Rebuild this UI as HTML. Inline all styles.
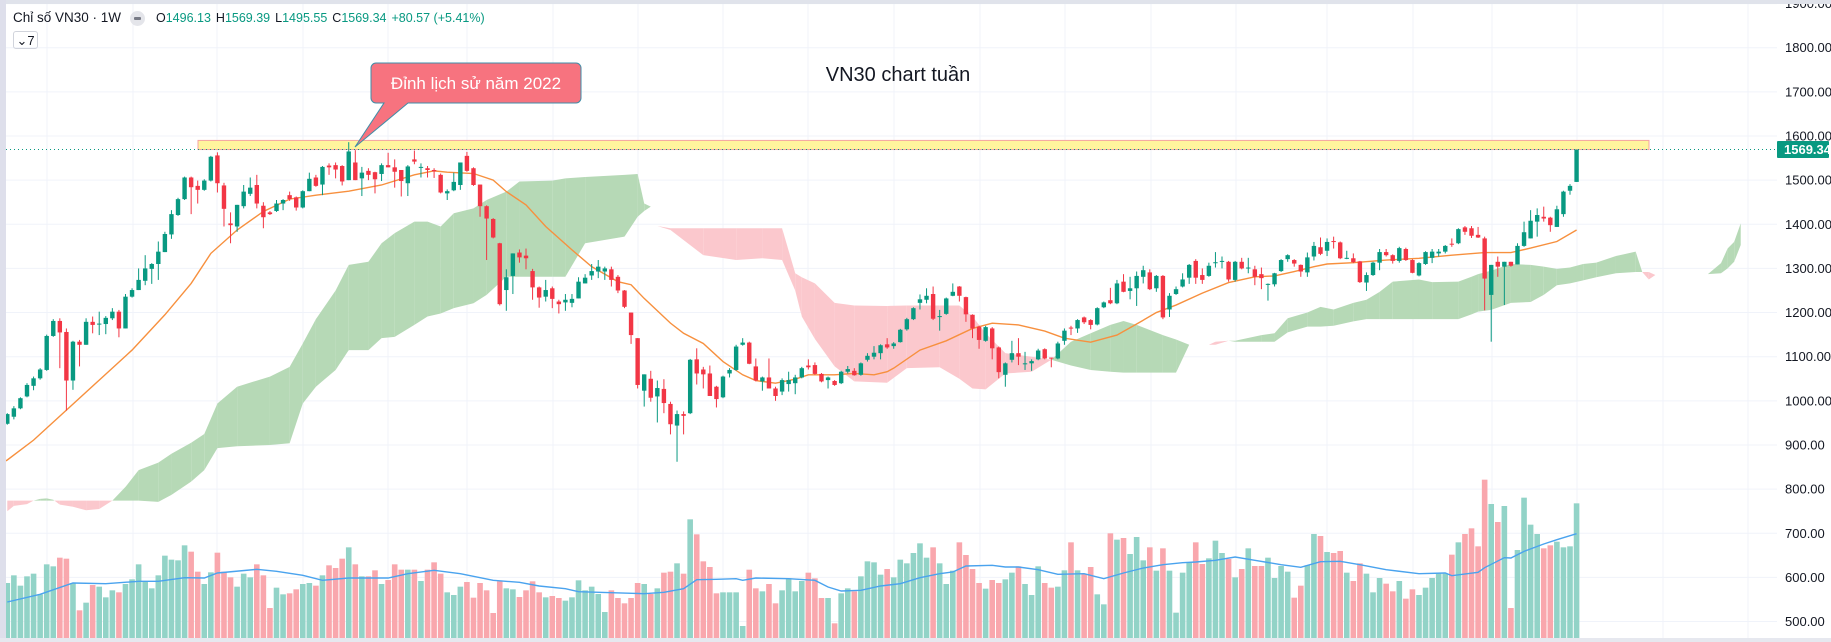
<!DOCTYPE html>
<html><head><meta charset="utf-8">
<style>
html,body{margin:0;padding:0;background:#fff;}
body{width:1831px;height:642px;overflow:hidden;position:relative;font-family:"Liberation Sans","Noto Sans CJK SC",sans-serif;}
svg{position:absolute;left:0;top:0;}
.hdr{position:absolute;left:13px;top:10px;font-size:13.5px;color:#131722;white-space:nowrap;}
.ohlc{position:absolute;left:156px;top:11px;font-size:12.5px;color:#131722;white-space:nowrap;}
.ohlc b{font-weight:normal;color:#089981;margin-right:5px;}
</style></head>
<body>
<svg id="chart" width="1831" height="642"></svg>
<div class="hdr">Chỉ số VN30 · 1W</div>
<div style="position:absolute;left:130px;top:11px;width:15px;height:15px;border-radius:50%;background:#e4e5ea;"><div style="position:absolute;left:4px;top:6px;width:7px;height:3px;background:#787b86;border-radius:1px"></div></div>
<div class="ohlc">O<b>1496.13</b>H<b>1569.39</b>L<b>1495.55</b>C<b>1569.34</b><b>+80.57 (+5.41%)</b></div>
<div style="position:absolute;left:13px;top:31px;width:25px;height:18px;border:1px solid #d1d4dc;border-radius:3px;font-size:13px;color:#131722;line-height:18px;text-align:center;box-sizing:border-box;">&#8964;7</div>
<script>
const opens=[948,964,983,1010,1034,1051,1070,1147,1181,1156,1046,1134,1127,1179,1173,1174,1187,1202,1164,1236,1251,1272,1299,1310,1337,1377,1421,1457,1506,1487,1478,1499,1556,1488,1402,1395,1441,1469,1489,1442,1427,1430,1447,1466,1461,1438,1475,1506,1490,1533,1534,1532,1500,1540,1504,1521,1518,1514,1534,1529,1523,1493,1547,1528,1527,1523,1512,1470,1477,1489,1555,1527,1490,1441,1412,1357,1251,1283,1336,1329,1294,1257,1236,1255,1225,1223,1222,1232,1266,1284,1293,1293,1298,1281,1250,1200,1142,1023,1050,1010,1027,993,944,970,972,1094,1071,1062,1032,1008,1062,1070,1127,1132,1078,1044,1053,1028,1021,1038,1040,1053,1080,1081,1061,1047,1045,1040,1066,1068,1059,1093,1100,1108,1128,1124,1133,1162,1185,1222,1229,1242,1191,1197,1238,1259,1235,1195,1168,1136,1164,1121,1059,1093,1108,1083,1085,1094,1117,1098,1096,1136,1166,1164,1189,1183,1173,1212,1228,1221,1270,1249,1255,1281,1291,1255,1283,1207,1242,1259,1279,1317,1285,1283,1313,1315,1315,1274,1315,1300,1298,1287,1263,1264,1294,1321,1319,1308,1291,1327,1348,1340,1362,1359,1323,1323,1316,1268,1285,1313,1337,1330,1317,1344,1319,1284,1310,1324,1334,1338,1356,1357,1393,1391,1376,1368,1240,1315,1304,1315,1309,1351,1368,1406,1417,1415,1394,1423,1476,1496];
const highs=[972,988,1008,1040,1055,1074,1150,1185,1187,1164,1136,1138,1187,1191,1202,1192,1210,1206,1242,1255,1300,1330,1312,1361,1383,1432,1460,1508,1508,1499,1502,1555,1563,1494,1427,1444,1489,1506,1512,1450,1430,1455,1457,1474,1463,1477,1517,1512,1532,1538,1540,1534,1586,1568,1530,1527,1519,1538,1562,1547,1523,1534,1567,1538,1532,1527,1515,1479,1517,1540,1564,1529,1490,1443,1414,1358,1298,1334,1343,1345,1299,1259,1274,1259,1229,1242,1242,1280,1287,1310,1319,1304,1304,1285,1251,1200,1142,1060,1068,1046,1049,998,978,976,1095,1119,1077,1080,1034,1057,1074,1127,1142,1134,1096,1055,1096,1032,1051,1066,1059,1077,1094,1087,1063,1055,1047,1068,1079,1074,1087,1108,1124,1128,1142,1133,1163,1188,1212,1241,1255,1259,1206,1234,1266,1260,1236,1196,1170,1170,1167,1123,1087,1136,1142,1111,1094,1118,1119,1098,1134,1164,1170,1185,1191,1185,1212,1225,1256,1274,1287,1281,1293,1306,1298,1285,1285,1244,1259,1289,1310,1321,1300,1313,1337,1327,1317,1317,1324,1324,1306,1302,1266,1290,1321,1332,1321,1309,1336,1360,1370,1368,1372,1361,1340,1334,1317,1291,1315,1344,1344,1332,1349,1347,1321,1314,1339,1344,1344,1353,1368,1391,1396,1396,1394,1372,1308,1327,1315,1315,1357,1406,1432,1436,1440,1417,1442,1476,1491,1569];
const lows=[946,958,981,1008,1024,1048,1068,1145,1074,978,1025,1078,1127,1153,1149,1151,1183,1144,1164,1234,1251,1262,1265,1274,1337,1367,1419,1455,1423,1447,1476,1497,1472,1395,1357,1383,1436,1464,1436,1391,1421,1428,1432,1453,1431,1436,1475,1485,1466,1512,1504,1488,1500,1500,1464,1500,1470,1498,1529,1483,1463,1464,1536,1506,1506,1505,1470,1455,1475,1478,1519,1487,1417,1319,1368,1216,1204,1242,1313,1298,1229,1211,1225,1210,1198,1204,1212,1232,1266,1274,1278,1274,1259,1244,1210,1129,1028,987,998,951,972,924,862,924,970,1037,1028,1011,985,1006,1053,1068,1125,1083,1044,1023,1028,1000,1013,1021,1015,1051,1071,1059,1042,1028,1034,1038,1062,1057,1057,1089,1094,1094,1118,1118,1132,1159,1183,1207,1221,1183,1159,1195,1237,1225,1179,1142,1118,1134,1094,1051,1032,1087,1081,1070,1068,1092,1094,1076,1094,1127,1149,1154,1174,1162,1171,1210,1219,1219,1246,1230,1215,1266,1251,1247,1185,1190,1240,1257,1265,1265,1265,1281,1302,1300,1270,1270,1298,1289,1262,1253,1227,1259,1292,1315,1304,1281,1281,1318,1330,1328,1345,1321,1321,1312,1267,1249,1283,1296,1327,1311,1313,1317,1289,1282,1308,1312,1327,1334,1349,1355,1376,1369,1369,1205,1134,1281,1217,1304,1309,1349,1368,1372,1406,1383,1394,1417,1467,1496];
const closes=[970,983,1006,1036,1051,1071,1147,1181,1155,1046,1134,1127,1179,1172,1175,1188,1202,1164,1236,1251,1274,1300,1310,1338,1378,1423,1457,1506,1484,1478,1499,1553,1493,1435,1398,1444,1474,1483,1447,1416,1423,1447,1455,1457,1438,1475,1503,1487,1530,1529,1524,1497,1565,1500,1517,1512,1502,1534,1529,1519,1498,1531,1542,1530,1523,1520,1472,1475,1496,1540,1521,1489,1441,1413,1370,1219,1280,1334,1325,1323,1257,1234,1251,1231,1219,1229,1231,1270,1279,1294,1304,1300,1274,1250,1213,1149,1036,1060,1007,1029,995,947,970,966,1093,1062,1060,1011,1004,1055,1070,1123,1132,1084,1046,1053,1028,1011,1047,1047,1053,1074,1076,1061,1044,1053,1036,1066,1072,1058,1085,1102,1109,1126,1121,1130,1161,1185,1210,1230,1238,1186,1192,1232,1247,1238,1196,1164,1138,1167,1119,1065,1085,1108,1100,1085,1090,1114,1096,1096,1130,1159,1164,1183,1178,1172,1210,1223,1221,1266,1247,1255,1283,1296,1253,1283,1189,1238,1253,1275,1308,1279,1274,1306,1314,1317,1275,1315,1300,1302,1281,1278,1265,1289,1319,1330,1311,1293,1325,1351,1333,1360,1360,1323,1324,1314,1269,1285,1313,1337,1330,1317,1346,1319,1290,1312,1337,1338,1338,1351,1354,1389,1383,1374,1370,1277,1308,1304,1315,1306,1351,1382,1408,1421,1413,1398,1434,1474,1487,1569];
const volumes=[165,188,157,185,193,131,221,215,241,238,165,83,106,159,154,122,143,137,162,176,221,168,149,188,247,235,233,278,259,199,162,197,256,199,182,154,193,182,221,188,90,151,131,134,146,162,165,157,188,218,210,238,272,221,185,185,203,162,174,221,205,205,205,171,205,227,193,137,129,154,168,121,165,143,75,170,149,146,123,143,170,137,122,126,120,112,122,173,143,154,132,78,143,120,104,120,165,162,132,149,196,199,224,193,356,311,230,213,134,137,137,137,36,205,149,140,162,104,143,179,140,171,196,179,120,120,44,134,149,140,185,230,227,190,207,182,235,224,255,284,241,272,224,162,202,287,249,207,165,148,174,165,176,196,215,162,129,215,165,151,154,203,287,203,192,213,131,101,314,295,300,252,303,233,272,202,269,202,76,196,227,287,222,239,292,255,237,182,207,269,216,216,241,180,216,199,121,157,218,312,306,258,255,261,196,171,224,193,137,180,163,140,171,118,146,129,151,180,193,193,250,287,312,329,275,475,402,348,396,90,264,421,340,312,269,278,289,272,275,404];
const maIdx=[-1,0,4,9,14,19,24,28,31,35,39,43,47,52,57,62,65,67,71,74,76,79,82,86,89,93,95,97,101,103,106,109,112,114,117,120,122,126,129,132,134,135,139,143,147,150,154,158,161,165,169,172,175,178,182,186,190,193,196,199,201,205,210,215,220,225,229,232,236,239];
const maVals=[858,866,911,979,1047,1115,1195,1266,1334,1387,1429,1457,1466,1475,1489,1512,1521,1518,1515,1500,1474,1444,1395,1342,1304,1270,1263,1232,1176,1153,1130,1089,1059,1046,1040,1049,1059,1059,1062,1059,1066,1074,1115,1136,1164,1176,1172,1158,1142,1133,1149,1174,1200,1217,1244,1268,1281,1283,1293,1304,1310,1313,1319,1323,1330,1336,1336,1346,1361,1387];
const volMaIdx=[0,5,10,15,20,23,27,30,32,38,41,45,48,52,58,61,65,69,74,78,81,85,87,92,97,100,103,105,108,111,112,114,119,123,125,127,130,133,136,139,142,144,146,150,152,154,157,160,164,167,170,173,176,179,181,184,187,190,194,197,200,203,206,210,215,219,220,224,225,228,229,231,234,236,239];
const volMaVals=[108,131,165,163,170,170,181,180,195,206,200,188,173,180,180,193,203,193,173,167,156,148,139,136,133,137,148,175,176,178,173,180,178,173,153,141,143,156,163,181,193,198,216,218,213,213,205,191,193,178,195,210,220,226,228,233,243,233,220,212,229,230,220,205,193,195,187,197,211,241,240,260,282,295,313];
const cloudIdx=[0,1,3,4,5,6,7,8,10,12,14,16,18,20,23,25,28,30,32,35,40,43,45,47,50,52,55,57,59,62,64,66,68,71,73,76,78,83,85,88,94,96,97,98,99,101,106,111,115,118,120,121,123,126,129,134,137,142,145,147,149,152,156,159,162,165,168,170,172,176,178,180,183,184,186,187,191,193,195,198,200,202,205,207,209,211,215,217,221,223,224,226,229,232,234,236,238,240,242,245,248,249,250,251,258,259,261,262,263,264];
const spanA=[750,762,766,774,778,779,776,765,760,752,755,774,805,843,860,880,905,925,994,1032,1055,1077,1130,1185,1250,1308,1315,1357,1380,1406,1406,1395,1425,1436,1455,1474,1497,1499,1504,1507,1512,1514,1447,1440,1396,1387,1330,1319,1323,1319,1250,1191,1140,1078,1044,1041,1074,1076,1050,1028,1026,1062,1066,1093,1134,1153,1172,1181,1172,1149,1139,1127,1127,1127,1136,1136,1149,1153,1187,1200,1213,1207,1222,1229,1247,1270,1275,1269,1270,1281,1287,1295,1310,1308,1304,1299,1302,1310,1313,1328,1338,1292,1275,1285,1287,1287,1312,1345,1360,1402];
const spanB=[774,774,774,774,774,774,774,774,774,774,774,774,774,774,771,787,817,843,893,897,900,904,994,1032,1070,1115,1115,1142,1145,1172,1191,1198,1210,1221,1240,1281,1281,1281,1281,1357,1372,1417,1430,1440,1396,1391,1391,1391,1391,1391,1289,1280,1266,1222,1216,1215,1216,1216,1216,1191,1153,1108,1100,1093,1080,1070,1066,1064,1064,1064,1064,1127,1127,1134,1136,1134,1134,1134,1155,1168,1168,1170,1180,1185,1185,1185,1185,1185,1185,1196,1202,1206,1222,1224,1240,1262,1266,1273,1280,1289,1292,1292,1292,1285,1287,1287,1289,1300,1315,1353];
const priceTicks=[500,600,700,800,900,1000,1100,1200,1300,1400,1500,1600,1700,1800,1900];
const gridXs=[47,133,217,303,388,467,553,638,723,808,894,980,1065,1151,1236,1327,1413,1492,1577,1663,1748];

const NS='http://www.w3.org/2000/svg';
const svg=document.getElementById('chart');
const L=6,R=1777,T=4,B=638;
function x(i){return 7.3+i*6.566;}
function y(v){return 136+(1600-v)*0.4414;}
function yv(v){return B-v/3;}
function mk(tag,attrs,parent){const e=document.createElementNS(NS,tag);for(const k in attrs)e.setAttribute(k,attrs[k]);(parent||svg).appendChild(e);return e;}

const defs=mk('defs',{});
const cp=mk('clipPath',{id:'pane'},defs);
mk('rect',{x:L,y:T,width:R-L,height:B-T},cp);

const grid=mk('g',{});


priceTicks.forEach(v=>{const l=mk('line',{x1:L,x2:R,y1:y(v),y2:y(v),stroke:'#f0f3fa','stroke-width':1},grid);

});
gridXs.forEach(gx=>{const l=mk('line',{x1:gx,x2:gx,y1:T,y2:B,stroke:'#f0f3fa','stroke-width':1},grid);

});

const pane=mk('g',{'clip-path':'url(#pane)'});

const vg=mk('g',{},pane);


volumes.forEach((v,i)=>{const up=closes[i]>=opens[i];
const r=mk('rect',{x:x(i)-2.8,y:yv(v),width:5.6,height:v/3,fill:up?'#92d3c7':'#f9a7ad'},vg);

});
const vm=mk('polyline',{points:volMaIdx.map((k,j)=>x(k)+','+yv(volMaVals[j])).join(' '),fill:'none',stroke:'#4aa3ee','stroke-width':1.4},pane);



const cg=mk('g',{},pane);


function poly(pts,col){const p=mk('polygon',{points:pts.map(q=>q[0]+','+q[1]).join(' '),fill:col},cg);

}
for(let k=0;k<cloudIdx.length-1;k++){
 const x1=x(cloudIdx[k]),x2=x(cloudIdx[k+1]);
 const a1=spanA[k],b1=spanB[k],a2=spanA[k+1],b2=spanB[k+1];
 const d1=a1-b1,d2=a2-b2;
 if(d1===0&&d2===0)continue;
 if(d1*d2<0){const t=d1/(d1-d2);const xm=x1+(x2-x1)*t,vm2=a1+(a2-a1)*t;
  poly([[x1,y(a1)],[xm,y(vm2)],[x1,y(b1)]],d1>0?'#b6d9b6':'#fbc8cd');
  poly([[xm,y(vm2)],[x2,y(a2)],[x2,y(b2)]],d2>0?'#b6d9b6':'#fbc8cd');}
 else{poly([[x1,y(a1)],[x2,y(a2)],[x2,y(b2)],[x1,y(b1)]],(d1+d2)>0?'#b6d9b6':'#fbc8cd');}
}

const zone=mk('rect',{x:198,y:y(1590),width:1451,height:y(1569.34)-y(1590),fill:'#fff59d',stroke:'#f4a3a3','stroke-width':1},pane);



const ma=mk('polyline',{points:maIdx.map((k,j)=>x(k)+','+y(maVals[j])).join(' '),fill:'none',stroke:'#f7903e','stroke-width':1.4},pane);



const lp=mk('line',{x1:L,x2:R,y1:y(1569.34),y2:y(1569.34),stroke:'#089981','stroke-width':1,'stroke-dasharray':'1,3'},pane);



const kg=mk('g',{},pane);


opens.forEach((o,i)=>{const c=closes[i];const up=c>=o;const col=up?'#089981':'#f23645';
 const g=mk('g',{},kg);
 
 
 mk('line',{x1:x(i),x2:x(i),y1:y(highs[i]),y2:y(lows[i]),stroke:col,'stroke-width':1},g);
 const top=y(Math.max(o,c)),h=Math.max(1,y(Math.min(o,c))-top);
 mk('rect',{x:x(i)-2.2,y:top,width:4.4,height:h,fill:col},g);});

const ax=mk('g',{});


priceTicks.forEach(v=>{const t=mk('text',{x:1785,y:y(v)+4.5,'font-size':13,fill:'#131722','font-family':'Liberation Sans, sans-serif'},ax);
t.textContent=v.toFixed(2);

});
const pl=mk('rect',{x:1777,y:y(1569.34)-8.5,width:52,height:17,fill:'#089981',rx:1});


const pt=mk('text',{x:1784,y:y(1569.34)+4.5,'font-size':13,'font-weight':'bold',fill:'#fff','font-family':'Liberation Sans, sans-serif'});
pt.textContent='1569.34';



const co=mk('g',{});


mk('path',{d:'M376 63 H576 a5 5 0 0 1 5 5 V98 a5 5 0 0 1 -5 5 H408 L355 147 L384 103 H376 a5 5 0 0 1 -5 -5 V68 a5 5 0 0 1 5 -5 Z',fill:'#f7737f',stroke:'#3f8ea8','stroke-width':1},co);
const ct=mk('text',{x:476,y:89,'text-anchor':'middle','font-size':17,fill:'#fff','font-family':'Liberation Sans, sans-serif'},co);
ct.textContent='Đỉnh lịch sử năm 2022';

const tt=mk('text',{x:898,y:81,'text-anchor':'middle','font-size':20,fill:'#131722','font-family':'Liberation Sans, sans-serif'});
tt.textContent='VN30 chart tuần';



const b1=mk('rect',{x:0,y:0,width:1831,height:4,fill:'#e0e3eb'});


const b2=mk('rect',{x:0,y:0,width:6,height:642,fill:'#dedfeb'});


const b3=mk('rect',{x:0,y:638,width:1831,height:4,fill:'#e6e8ef'});


</script>
</body></html>
